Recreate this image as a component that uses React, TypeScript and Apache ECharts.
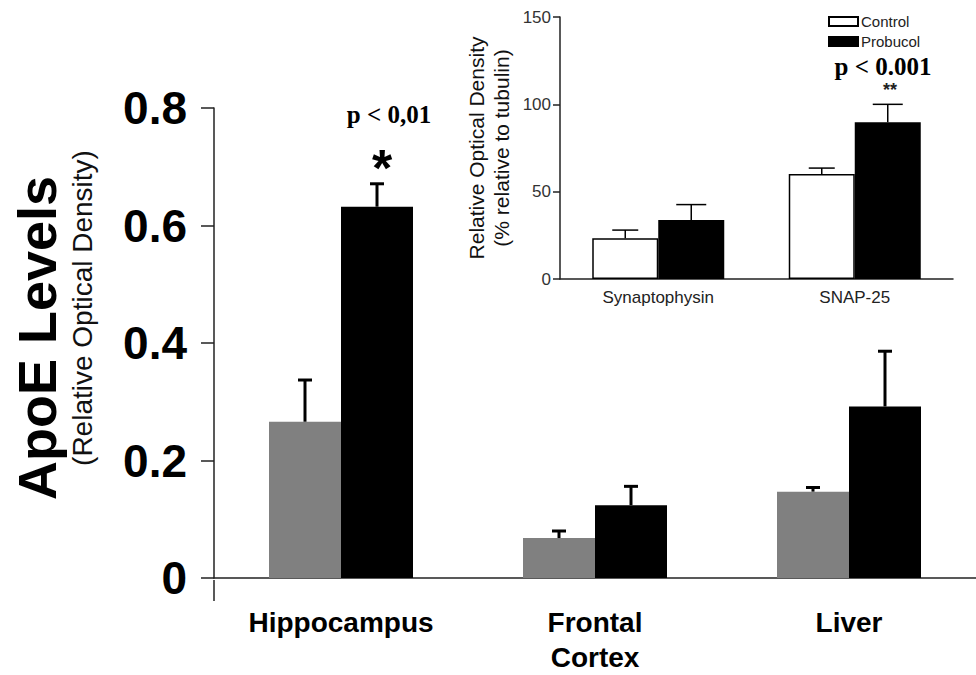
import React, { useEffect, useRef } from "react";
import * as echarts from "echarts";

// Main chart data (ApoE levels, relative optical density)
const categories = ["Hippocampus", "Frontal\nCortex", "Liver"];
const controlApoE = [0.266, 0.068, 0.147];
const controlApoEErr = [0.071, 0.012, 0.007];
const probucolApoE = [0.632, 0.124, 0.292];
const probucolApoEErr = [0.039, 0.032, 0.094];
const mainYMin = 0;
const mainYMax = 0.8;
const mainYStep = 0.2;

// Inset data (% relative to tubulin)
const insetCategories = ["Synaptophysin", "SNAP-25"];
const insetControl = [23.3, 60.1];
const insetControlErr = [4.7, 3.4];
const insetProbucol = [33.8, 89.7];
const insetProbucolErr = [8.8, 10.3];
const insetYMin = 0;
const insetYMax = 150;
const insetYStep = 50;

const MAIN_BAR_W = 72;
const INSET_BAR_W = 66;

function errorSeries(
  values: number[],
  errs: number[],
  side: number,
  barW: number,
  capW: number,
  lineW: number,
  axisIndex: number
) {
  return {
    type: "custom",
    xAxisIndex: axisIndex,
    yAxisIndex: axisIndex,
    z: 5,
    silent: true,
    data: values.map((v, i) => [i, v, errs[i]]),
    renderItem: (params: any, api: any) => {
      const i = api.value(0);
      const v = api.value(1);
      const e = api.value(2);
      const b = api.coord([i, v]);
      const t = api.coord([i, v + e]);
      const x = b[0] + (side * barW) / 2;
      return {
        type: "group",
        children: [
          {
            type: "line",
            shape: { x1: x, y1: b[1], x2: x, y2: t[1] },
            style: { stroke: "#000", lineWidth: lineW },
          },
          {
            type: "line",
            shape: { x1: x - capW / 2, y1: t[1], x2: x + capW / 2, y2: t[1] },
            style: { stroke: "#000", lineWidth: lineW },
          },
        ],
      };
    },
  };
}

export default function App() {
  const ref = useRef<HTMLDivElement>(null);
  useEffect(() => {
    document.body.style.margin = "0";
    const chart = echarts.init(ref.current!, null, { renderer: "svg" });
    const option: any = {
      animation: false,
      backgroundColor: "#fff",
      grid: [
        { left: 214, top: 108, right: 0, height: 472, containLabel: false },
        { left: 560, top: 17, width: 393, height: 262, containLabel: false },
      ],
      legend: {
        data: ["Control", "Probucol"],
        orient: "vertical",
        left: 828,
        top: 14,
        padding: 0,
        itemWidth: 29,
        itemHeight: 9,
        itemGap: 5,
        icon: "rect",
        textStyle: {
          fontFamily: "Liberation Sans, Arial",
          fontSize: 15,
          lineHeight: 15,
          color: "#222",
          padding: [0, 0, 0, -2],
        },
      },
      xAxis: [
        {
          type: "category",
          gridIndex: 0,
          data: categories,
          axisLine: { lineStyle: { color: "#222", width: 1.5 } },
          axisTick: { show: false },
          axisLabel: {
            margin: 27,
            fontFamily: "Liberation Sans, Arial",
            fontWeight: "bold",
            fontSize: 28,
            lineHeight: 35,
            color: "#000",
          },
        },
        {
          type: "category",
          gridIndex: 1,
          data: insetCategories,
          axisLine: { lineStyle: { color: "#222", width: 1.5 } },
          axisTick: { show: false },
          axisLabel: {
            margin: 10,
            fontFamily: "Liberation Sans, Arial",
            fontSize: 17,
            color: "#222",
          },
        },
      ],
      yAxis: [
        {
          type: "value",
          gridIndex: 0,
          min: mainYMin,
          max: mainYMax,
          interval: mainYStep,
          splitLine: { show: false },
          axisLine: { show: true, lineStyle: { color: "#222", width: 1.5 } },
          axisTick: { show: true, length: 13, lineStyle: { color: "#222", width: 1.5 } },
          axisLabel: {
            margin: 27,
            fontFamily: "Liberation Sans, Arial",
            fontWeight: "bold",
            fontSize: 46,
            color: "#000",
            formatter: (v: number) => (v === 0 ? "0" : v.toFixed(1)),
          },
        },
        {
          type: "value",
          gridIndex: 1,
          min: insetYMin,
          max: insetYMax,
          interval: insetYStep,
          splitLine: { show: false },
          axisLine: { show: true, lineStyle: { color: "#222", width: 1.5 } },
          axisTick: { show: true, length: 7, lineStyle: { color: "#222", width: 1.5 } },
          axisLabel: {
            margin: 9,
            fontFamily: "Liberation Sans, Arial",
            fontSize: 17,
            color: "#333",
          },
          name: "Relative Optical Density\n(% relative to tubulin)",
          nameLocation: "middle",
          nameRotate: 90,
          nameGap: 46,
          nameTextStyle: {
            fontFamily: "Liberation Sans, Arial",
            fontSize: 21,
            lineHeight: 25,
            color: "#111",
          },
        },
      ],
      series: [
        {
          name: "Control (ApoE)",
          type: "bar",
          xAxisIndex: 0,
          yAxisIndex: 0,
          data: controlApoE,
          barWidth: MAIN_BAR_W,
          barGap: "0%",
          itemStyle: { color: "#808080" },
        },
        {
          name: "Probucol (ApoE)",
          type: "bar",
          xAxisIndex: 0,
          yAxisIndex: 0,
          data: probucolApoE,
          barWidth: MAIN_BAR_W,
          barGap: "0%",
          itemStyle: { color: "#000" },
        },
        errorSeries(controlApoE, controlApoEErr, -1, MAIN_BAR_W, 14, 3, 0),
        errorSeries(probucolApoE, probucolApoEErr, 1, MAIN_BAR_W, 14, 3, 0),
        {
          name: "Control",
          type: "bar",
          xAxisIndex: 1,
          yAxisIndex: 1,
          data: insetControl,
          barWidth: INSET_BAR_W,
          barGap: "0%",
          itemStyle: { color: "#fff", borderColor: "#000", borderWidth: 1.5 },
        },
        {
          name: "Probucol",
          type: "bar",
          xAxisIndex: 1,
          yAxisIndex: 1,
          data: insetProbucol,
          barWidth: INSET_BAR_W,
          barGap: "0%",
          itemStyle: { color: "#000", borderColor: "#000", borderWidth: 1.5 },
        },
        errorSeries(insetControl, insetControlErr, -1, INSET_BAR_W, 26, 1.5, 1),
        errorSeries(insetProbucol, insetProbucolErr, 1, INSET_BAR_W, 30, 1.5, 1),
      ],
      graphic: [
        {
          type: "line",
          shape: { x1: 214, y1: 580, x2: 214, y2: 601 },
          style: { stroke: "#222", lineWidth: 1.5 },
        },
        {
          type: "text",
          x: 37,
          y: 338,
          rotation: Math.PI / 2,
          style: {
            text: "ApoE Levels",
            font: "bold 54px 'Liberation Sans', Arial",
            fill: "#000",
            textAlign: "center",
            textVerticalAlign: "middle",
          },
        },
        {
          type: "text",
          x: 82,
          y: 308,
          rotation: Math.PI / 2,
          style: {
            text: "(Relative Optical Density)",
            font: "28px 'Liberation Sans', Arial",
            fill: "#111",
            textAlign: "center",
            textVerticalAlign: "middle",
          },
        },
        {
          type: "text",
          x: 389,
          y: 114,
          style: {
            text: "p < 0,01",
            font: "bold 25px 'Liberation Serif', 'Times New Roman'",
            fill: "#000",
            textAlign: "center",
            textVerticalAlign: "middle",
          },
        },
        {
          type: "text",
          x: 382,
          y: 168,
          style: {
            text: "*",
            font: "bold 52px 'Liberation Sans', Arial",
            fill: "#000",
            textAlign: "center",
            textVerticalAlign: "middle",
          },
        },
        {
          type: "text",
          x: 883,
          y: 66,
          style: {
            text: "p < 0.001",
            font: "bold 25px 'Liberation Serif', 'Times New Roman'",
            fill: "#000",
            textAlign: "center",
            textVerticalAlign: "middle",
          },
        },
        {
          type: "text",
          x: 890,
          y: 90,
          style: {
            text: "**",
            font: "bold 18px 'Liberation Sans', Arial",
            fill: "#222",
            textAlign: "center",
            textVerticalAlign: "middle",
          },
        },
      ],
    };
    chart.setOption(option);
    return () => chart.dispose();
  }, []);
  return <div ref={ref} style={{ width: 976, height: 675 }} />;
}
